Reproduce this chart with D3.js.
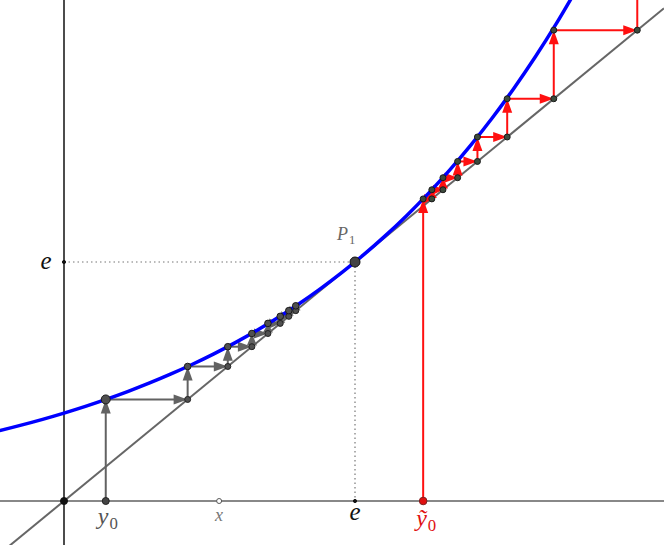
<!DOCTYPE html>
<html>
<head>
<meta charset="utf-8">
<script src="https://cdn.jsdelivr.net/npm/d3@7"></script>
<style>
  html, body { margin: 0; padding: 0; background: #fff; }
  svg { display: block; }
  .lbl { font-family: "Liberation Serif", "DejaVu Serif", serif; font-style: italic; }
</style>
</head>
<body>
<script>
// ---- data ----
const E = Math.E;
// sample points of the blue curve y = e^(x/e) (read values)
const curveX = [-0.6,-0.4,-0.2,0,0.2,0.4,0.6,0.8,1.0,1.2,1.4,1.6,1.8,2.0,2.2,2.4,2.6,2.8,3.0,3.2,3.4,3.6,3.8,4.0,4.2,4.4,4.6,4.8];
const curveY = [0.8019,0.8632,0.9291,1,1.0764,1.1585,1.2470,1.3422,1.4447,1.5550,1.6737,1.8015,1.9391,2.0871,2.2465,2.4180,2.6025,2.8012,3.0151,3.2453,3.4931,3.7598,4.0469,4.3558,4.6884,5.0463,5.4316,5.8463];
// cobweb iterates (gray, starting at y0) and (red, starting at ỹ0)
const grayIter = [0.39, 1.155, 1.53, 1.755, 1.905, 2.02, 2.10, 2.165, 2.22];
const redIter  = [3.355, 3.436, 3.54, 3.677, 3.862, 4.14, 4.575, 5.355, 7.17];
// axis marks
const xMarks = [
  {v: 0, kind: "origin"},
  {v: 0.39, kind: "y0"},
  {v: 1.449, kind: "x"},
  {v: E, kind: "e"},
  {v: 3.355, kind: "yt0"}
];
const P1 = [E, E];

const W = 664, H = 545;
const svg = d3.select("body").append("svg").attr("width", W).attr("height", H);

const x = d3.scaleLinear().domain([0, E]).range([64, 355]);
const y = d3.scaleLinear().domain([0, E]).range([501, 262]);
const xMin = x.invert(0), xMax = x.invert(W);

svg.append("defs").append("clipPath").attr("id", "clip")
  .append("rect").attr("width", W).attr("height", H);
const g = svg.append("g").attr("clip-path", "url(#clip)");

// axes
g.append("line").attr("x1", 0).attr("x2", W).attr("y1", y(0)).attr("y2", y(0))
  .attr("stroke", "#606060").attr("stroke-width", 1.5);
g.append("line").attr("x1", x(0)).attr("x2", x(0)).attr("y1", 0).attr("y2", H)
  .attr("stroke", "#111").attr("stroke-width", 1.5);

// dotted guides to P1
g.append("line").attr("x1", x(0)).attr("x2", x(P1[0])).attr("y1", y(P1[1])).attr("y2", y(P1[1]))
  .attr("stroke", "#777").attr("stroke-width", 1.2).attr("stroke-dasharray", "1.5,3");
g.append("line").attr("x1", x(P1[0])).attr("x2", x(P1[0])).attr("y1", y(P1[1])).attr("y2", y(0))
  .attr("stroke", "#777").attr("stroke-width", 1.2).attr("stroke-dasharray", "1.5,3");

// line y = x
g.append("line").attr("x1", x(xMin)).attr("y1", y(xMin)).attr("x2", x(xMax)).attr("y2", y(xMax))
  .attr("stroke", "#666").attr("stroke-width", 2);

// arrows helper
function arrow(x1, y1, x2, y2, color) {
  const px1 = x(x1), py1 = y(y1), px2 = x(x2), py2 = y(y2);
  const dx = px2 - px1, dy = py2 - py1, len = Math.hypot(dx, dy);
  if (len < 0.5) return;
  const ux = dx / len, uy = dy / len;
  const hl = Math.min(14, len * 0.9), hw = 5;
  const bx = px2 - ux * hl, by = py2 - uy * hl;
  g.append("line").attr("x1", px1).attr("y1", py1).attr("x2", bx + ux).attr("y2", by + uy)
    .attr("stroke", color).attr("stroke-width", 2);
  g.append("path")
    .attr("d", `M${px2},${py2}L${bx - uy * hw},${by + ux * hw}L${bx + uy * hw},${by - ux * hw}Z`)
    .attr("fill", color);
}

function cobweb(it, color) {
  arrow(it[0], 0, it[0], it[1], color);
  for (let i = 0; i < it.length - 2; i++) {
    arrow(it[i], it[i + 1], it[i + 1], it[i + 1], color);
    arrow(it[i + 1], it[i + 1], it[i + 1], it[i + 2], color);
  }
}
const gray = "#626262", red = "#ff1010";
cobweb(grayIter, gray);
cobweb(redIter, red);

// blue curve
const curvePts = curveX.map((v, i) => [v, curveY[i]]);
g.append("path").datum(curvePts)
  .attr("d", d3.line().x(d => x(d[0])).y(d => y(d[1])).curve(d3.curveCatmullRom))
  .attr("fill", "none").attr("stroke", "#0000ff").attr("stroke-width", 3.5);

// iterate points
function pt(cx, cy, r, fill, stroke) {
  g.append("circle").attr("cx", x(cx)).attr("cy", y(cy)).attr("r", r)
    .attr("fill", fill).attr("stroke", stroke).attr("stroke-width", 1);
}
for (let i = 0; i < grayIter.length - 1; i++) {
  if (i > 0) pt(grayIter[i], grayIter[i], 3, "#505050", "#222");
  pt(grayIter[i], grayIter[i + 1], i === 0 ? 4.5 : 3.3, "#505050", "#1a1a1a");
}
for (let i = 0; i < redIter.length - 1; i++) {
  if (i > 0) pt(redIter[i], redIter[i], 3, "#3c4a3c", "#1a1a1a");
  pt(redIter[i], redIter[i + 1], 3, "#3c4a3c", "#1a1a1a");
}
// P1
pt(P1[0], P1[1], 5, "#444", "#111");
// tick on y-axis at e
pt(0, E, 1.6, "#111", "#111");

// x-axis marks
xMarks.forEach(m => {
  if (m.kind === "origin") pt(m.v, 0, 3.5, "#111", "#111");
  else if (m.kind === "y0") pt(m.v, 0, 3.5, "#444", "#222");
  else if (m.kind === "x") pt(m.v, 0, 2.5, "#fff", "#555");
  else if (m.kind === "e") pt(m.v, 0, 1.6, "#111", "#111");
  else if (m.kind === "yt0") pt(m.v, 0, 3.8, "#e01010", "#802020");
});

// labels
function subLabel(px, py, main, sub, color, size) {
  const t = svg.append("text").attr("class", "lbl").attr("x", px).attr("y", py)
    .attr("fill", color).attr("font-size", size);
  t.append("tspan").text(main);
  t.append("tspan").attr("font-style", "normal").attr("font-size", size * 0.7)
    .attr("dy", size * 0.2).attr("dx", 1).text(sub);
}
svg.append("text").attr("class", "lbl").attr("x", 46).attr("y", 269)
  .attr("text-anchor", "middle").attr("font-size", 25).attr("fill", "#111").text("e");
subLabel(x(0.39) - 8, 524, "y", "0", "#555", 24);
svg.append("text").attr("class", "lbl").attr("x", x(1.449)).attr("y", 521)
  .attr("text-anchor", "middle").attr("font-size", 18).attr("fill", "#777").text("x");
svg.append("text").attr("class", "lbl").attr("x", x(E)).attr("y", 520)
  .attr("text-anchor", "middle").attr("font-size", 25).attr("fill", "#111").text("e");
subLabel(x(3.355) - 7, 526, "ỹ", "0", "#e01010", 24);
subLabel(337, 240, "P", "1", "#666", 18);
</script>
</body>
</html>
